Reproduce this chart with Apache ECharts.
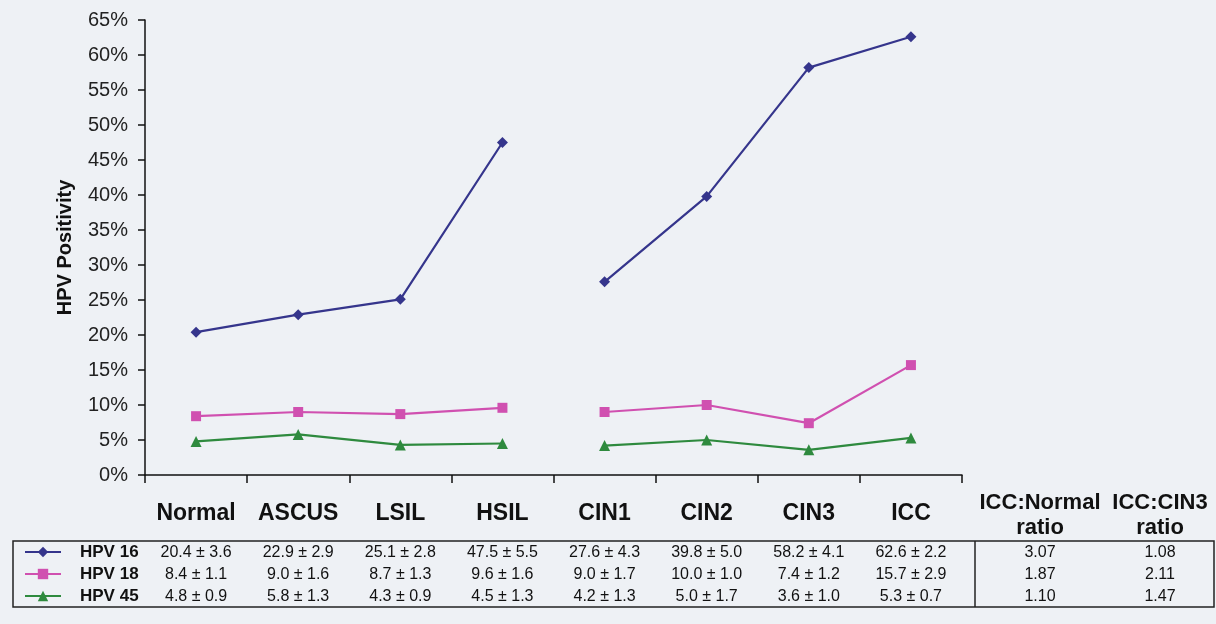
<!DOCTYPE html>
<html>
<head>
<meta charset="utf-8">
<script src="https://cdn.jsdelivr.net/npm/echarts@6/dist/echarts.min.js"></script>
<style>
html,body{margin:0;padding:0;background:#ffffff;}
#c{width:1216px;height:624px;}
</style>
</head>
<body>
<div id="c"></div>
<script>
var categories = ['Normal','ASCUS','LSIL','HSIL','CIN1','CIN2','CIN3','ICC'];
var seriesNames = ['HPV 16','HPV 18','HPV 45'];
var hpv16 = [20.4, 22.9, 25.1, 47.5, 27.6, 39.8, 58.2, 62.6];
var hpv16se = ['3.6','2.9','2.8','5.5','4.3','5.0','4.1','2.2'];
var hpv18 = [8.4, 9.0, 8.7, 9.6, 9.0, 10.0, 7.4, 15.7];
var hpv18se = ['1.1','1.6','1.3','1.6','1.7','1.0','1.2','2.9'];
var hpv45 = [4.8, 5.8, 4.3, 4.5, 4.2, 5.0, 3.6, 5.3];
var hpv45se = ['0.9','1.3','0.9','1.3','1.3','1.7','1.0','0.7'];
var ratioHeaders = ['ICC:Normal\nratio','ICC:CIN3\nratio'];
var iccNormalRatio = ['3.07','1.87','1.10'];
var iccCin3Ratio = ['1.08','2.11','1.47'];
var yTicks = [0,5,10,15,20,25,30,35,40,45,50,55,60,65];

var colors = ['#35358c','#d050b0','#2e8a3e'];
var symbols = ['diamond','rect','triangle'];
var symbolSizes = [11, 10, 11];
var FONT = "'Liberation Sans', Arial, Helvetica, sans-serif";

function fmt(v){ return v.toFixed(1); }
var allVals = [hpv16, hpv18, hpv45];
var allSe = [hpv16se, hpv18se, hpv45se];

function half(arr, first){
  return arr.map(function(v,i){ return (first ? i < 4 : i >= 4) ? v : '-'; });
}

var series = [];
for (var s = 0; s < 3; s++) {
  [true,false].forEach(function(first){
    series.push({
      name: seriesNames[s],
      type: 'line',
      data: half(allVals[s], first),
      connectNulls: false,
      symbol: symbols[s],
      symbolSize: symbolSizes[s],
      color: colors[s],
      lineStyle: {width: 2.2, color: colors[s]},
      itemStyle: {color: colors[s]},
      emphasis: {disabled: true},
      animation: false
    });
  });
}

var chart = echarts.init(document.getElementById('c'));
var option = {
  backgroundColor: '#eef1f5',
  animation: false,
  grid: {left: 145, right: 254, top: 20, bottom: 149, containLabel: false},
  legend: {
    orient: 'vertical',
    left: 24, top: 543,
    padding: 0,
    itemWidth: 36, itemHeight: 13,
    itemGap: 4,
    data: seriesNames,
    textStyle: {fontFamily: FONT, fontWeight: 'bold', fontSize: 17, lineHeight: 18, color: '#111', padding: [0,0,0,14]},
    selectedMode: false
  },
  xAxis: {
    type: 'category',
    data: categories,
    boundaryGap: true,
    axisLine: {lineStyle: {color: '#111', width: 1.5}},
    axisTick: {show: true, inside: false, length: 8, alignWithLabel: false, lineStyle: {color: '#111', width: 1.5}},
    axisLabel: {
      interval: 0,
      margin: 24,
      formatter: function(val, idx){
        var lines = ['{cat|' + val + '}', '{gap| }'];
        for (var s = 0; s < 3; s++) {
          lines.push('{v|' + fmt(allVals[s][idx]) + ' \u00b1 ' + allSe[s][idx] + '}');
        }
        return lines.join('\n');
      },
      rich: {
        cat: {fontFamily: FONT, fontWeight: 'bold', fontSize: 23, color: '#111', lineHeight: 30},
        gap: {fontSize: 6, lineHeight: 13},
        v: {fontFamily: FONT, fontSize: 16, color: '#111', lineHeight: 22}
      }
    }
  },
  yAxis: {
    type: 'value',
    min: 0, max: 65, interval: 5,
    name: 'HPV Positivity',
    nameLocation: 'middle',
    nameRotate: 90,
    nameGap: 70,
    nameTextStyle: {fontFamily: FONT, fontWeight: 'bold', fontSize: 20, color: '#111'},
    splitLine: {show: false},
    axisLine: {show: true, lineStyle: {color: '#111', width: 1.5}},
    axisTick: {show: true, length: 7, lineStyle: {color: '#111', width: 1.5}},
    axisLabel: {fontFamily: FONT, fontSize: 20, color: '#222', margin: 17,
      formatter: function(v){ return yTicks.indexOf(v) >= 0 ? v + '%' : ''; }}
  },
  series: series,
  graphic: []
};
chart.setOption(option);

// Table frame and ratio columns
var g = [];
g.push({type: 'rect', shape: {x: 13, y: 541, width: 1201, height: 66},
  style: {fill: 'none', stroke: '#222', lineWidth: 1.5}, silent: true});
g.push({type: 'line', shape: {x1: 975, y1: 541, x2: 975, y2: 607},
  style: {stroke: '#222', lineWidth: 1.5}, silent: true});
var ratioCols = [iccNormalRatio, iccCin3Ratio];
var colX = [1040, 1160];
for (var c = 0; c < 2; c++) {
  g.push({type: 'text', x: colX[c], y: 515, silent: true,
    style: {text: ratioHeaders[c], fontFamily: FONT, fontWeight: 'bold', fontSize: 22, fill: '#111',
      align: 'center', verticalAlign: 'middle', lineHeight: 25}});
  for (var r = 0; r < 3; r++) {
    g.push({type: 'text', x: colX[c], y: 553 + r * 22, silent: true,
      style: {text: ratioCols[c][r], fontFamily: FONT, fontSize: 16, fill: '#111',
        align: 'center', verticalAlign: 'middle'}});
  }
}
chart.setOption({graphic: g});
</script>
</body>
</html>
